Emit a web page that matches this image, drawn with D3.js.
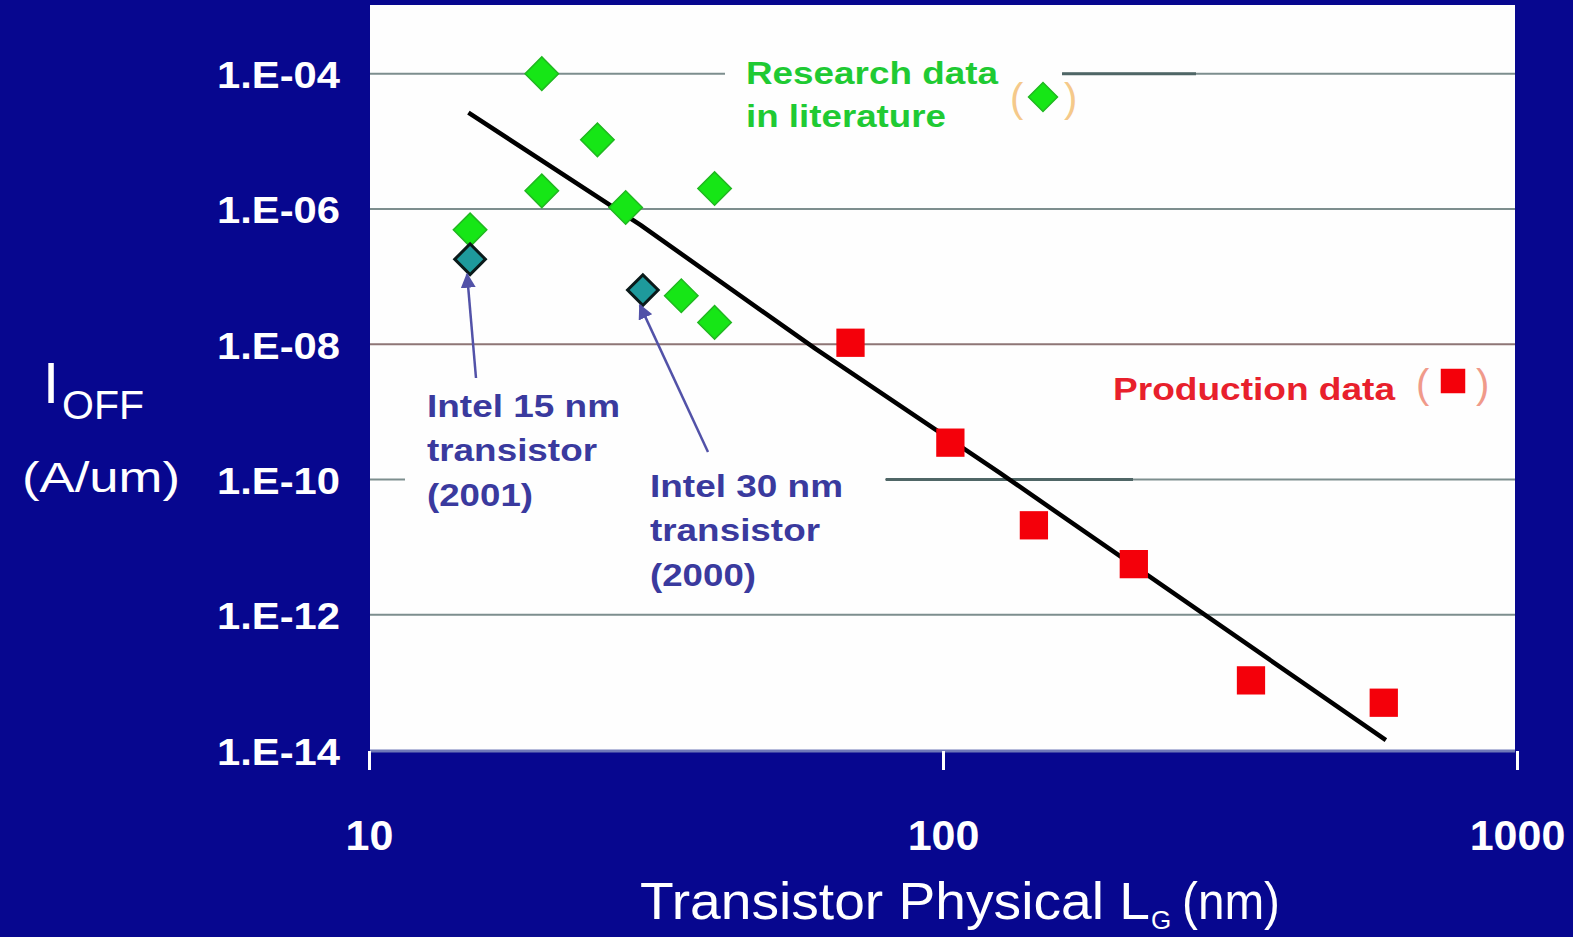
<!DOCTYPE html>
<html>
<head>
<meta charset="utf-8">
<script src="https://cdn.jsdelivr.net/npm/d3@7"></script>
<style>
  body { margin: 0; background: #07078f; }
  svg { display: block; }
  text { font-family: "Liberation Sans", Arial, sans-serif; }
</style>
</head>
<body>
<div id="chart"></div>
<script>
// gate length (nm) and off current (A/um)
const researchLg   = [20, 25, 20, 28, 40, 15, 35, 40];
const researchIoff = [1e-4, 1.05e-5, 1.85e-6, 1.05e-6, 2e-6, 4.9e-7, 5.2e-8, 2.1e-8];

const intelLg   = [15, 30];
const intelIoff = [1.8e-7, 6.3e-8];

const prodLg   = [69, 103, 144, 215, 344, 586];
const prodIoff = [1.05e-8, 3.5e-10, 2.1e-11, 5.6e-12, 1.07e-13, 5e-14];

const trendLg   = [14.9, 29.7, 60, 125.6, 591];
const trendIoff = [2.65e-5, 5.8e-7, 8.5e-9, 1.25e-10, 1.4e-14];

const xTicks = [10, 100, 1000];
const yTicks = [1e-4, 1e-6, 1e-8, 1e-10, 1e-12, 1e-14];

let width = 1573, height = 937;
let plot = {left: 370, right: 1515, top: 5, bottom: 750};

let svg = d3.select("#chart").append("svg")
  .attr("width", width)
  .attr("height", height);

svg.append("rect").attr("width", width).attr("height", height).attr("fill", "#07078f");

let x = d3.scaleLog().domain([10, 1000]).range([369, 1517]);
let y = d3.scaleLog().domain([1e-14, 1e-3]).range([750, 6]);

let defs = svg.append("defs");
defs.append("marker")
  .attr("id", "arrow")
  .attr("viewBox", "0 0 10 10")
  .attr("refX", 9).attr("refY", 5)
  .attr("markerWidth", 6).attr("markerHeight", 6)
  .attr("orient", "auto")
  .append("path").attr("d", "M0,0 L10,5 L0,10 z").attr("fill", "#5252a8");

// plot area
svg.append("rect")
  .attr("x", plot.left).attr("y", plot.top)
  .attr("width", plot.right - plot.left).attr("height", plot.bottom - plot.top)
  .attr("fill", "#fefefe");
svg.append("line")
  .attr("x1", plot.left).attr("x2", plot.right)
  .attr("y1", plot.bottom + 1).attr("y2", plot.bottom + 1)
  .attr("stroke", "#6f78b8").attr("stroke-width", 3);

// gridlines
svg.append("g").selectAll("line").data(yTicks.slice(0, 5)).join("line")
  .attr("x1", plot.left).attr("x2", plot.right)
  .attr("y1", d => y(d)).attr("y2", d => y(d))
  .attr("stroke", d => d === 1e-8 ? "#8e7676" : "#7d8e8e")
  .attr("stroke-width", 2);

// white label boxes hiding the gridlines
let boxes = [[725, 45, 338, 95], [405, 380, 235, 135], [640, 462, 245, 140]];
svg.append("g").selectAll("rect").data(boxes).join("rect")
  .attr("x", d => d[0]).attr("y", d => d[1])
  .attr("width", d => d[2]).attr("height", d => d[3])
  .attr("fill", "#fefefe");

// darker box edges on two gridlines
let edges = [[1062, 1196, 1e-4], [886, 1133, 1e-10]];
svg.append("g").selectAll("line").data(edges).join("line")
  .attr("x1", d => d[0]).attr("x2", d => d[1])
  .attr("y1", d => y(d[2])).attr("y2", d => y(d[2]))
  .attr("stroke", "#4f6666").attr("stroke-width", 3);

// x axis
let xAxis = svg.append("g")
  .attr("transform", `translate(0,${plot.bottom + 1})`)
  .call(d3.axisBottom(x).tickValues(xTicks).tickSize(19).tickFormat(d3.format("d")));
xAxis.select(".domain").remove();
xAxis.selectAll(".tick line").attr("stroke", "#ffffff").attr("stroke-width", 3);
xAxis.selectAll(".tick text")
  .attr("y", 99)
  .attr("dy", 0)
  .attr("fill", "#ffffff")
  .style("font-size", "43px")
  .style("font-weight", "bold")
  .style("font-family", "Liberation Sans, Arial, sans-serif");

// y axis labels
let yAxis = svg.append("g")
  .attr("transform", `translate(340,0)`)
  .call(d3.axisLeft(y).tickValues(yTicks).tickSize(0).tickPadding(0)
    .tickFormat(d => "1.E-" + String(Math.round(-Math.log10(d))).padStart(2, "0")));
yAxis.select(".domain").remove();
yAxis.selectAll(".tick text")
  .attr("dy", "0.38em")
  .attr("fill", "#ffffff")
  .attr("textLength", 123)
  .attr("lengthAdjust", "spacingAndGlyphs")
  .style("font-size", "37px")
  .style("font-weight", "bold")
  .style("font-family", "Liberation Sans, Arial, sans-serif");

// axis titles
svg.append("text").attr("x", 43).attr("y", 403).attr("fill", "#fff")
  .style("font-size", "58px").text("I");
svg.append("text").attr("x", 62).attr("y", 419).attr("fill", "#fff")
  .attr("textLength", 82).attr("lengthAdjust", "spacingAndGlyphs")
  .style("font-size", "40px").text("OFF");
svg.append("text").attr("x", 22).attr("y", 492).attr("fill", "#fff")
  .attr("textLength", 158).attr("lengthAdjust", "spacingAndGlyphs")
  .style("font-size", "43px").text("(A/um)");

svg.append("text").attr("x", 640).attr("y", 919).attr("fill", "#fff")
  .attr("textLength", 510).attr("lengthAdjust", "spacingAndGlyphs")
  .style("font-size", "52px").text("Transistor Physical L");
svg.append("text").attr("x", 1151).attr("y", 929).attr("fill", "#fff")
  .style("font-size", "26px").text("G");
svg.append("text").attr("x", 1182).attr("y", 919).attr("fill", "#fff")
  .attr("textLength", 98).attr("lengthAdjust", "spacingAndGlyphs")
  .style("font-size", "52px").text("(nm)");

// trend line
let trend = trendLg.map((d, i) => [d, trendIoff[i]]);
svg.append("path")
  .datum(trend)
  .attr("fill", "none")
  .attr("stroke", "#000")
  .attr("stroke-width", 4.5)
  .attr("stroke-linejoin", "round")
  .attr("d", d3.line().x(d => x(d[0])).y(d => y(d[1])));

// markers
let diamond = d3.symbol().type(d3.symbolSquare).size(560);
let research = researchLg.map((d, i) => [d, researchIoff[i]]);
svg.append("g").selectAll("path").data(research).join("path")
  .attr("d", diamond)
  .attr("transform", d => `translate(${x(d[0])},${y(d[1])}) rotate(45)`)
  .attr("fill", "#16e616")
  .attr("stroke", "#20b820").attr("stroke-width", 1.5);

let intel = intelLg.map((d, i) => [d, intelIoff[i]]);
svg.append("g").selectAll("path").data(intel).join("path")
  .attr("d", d3.symbol().type(d3.symbolSquare).size(470))
  .attr("transform", d => `translate(${x(d[0])},${y(d[1])}) rotate(45)`)
  .attr("fill", "#1e9a9c")
  .attr("stroke", "#0a1a1a").attr("stroke-width", 3);

let prod = prodLg.map((d, i) => [d, prodIoff[i]]);
svg.append("g").selectAll("path").data(prod).join("path")
  .attr("d", d3.symbol().type(d3.symbolSquare).size(800))
  .attr("transform", d => `translate(${x(d[0])},${y(d[1])})`)
  .attr("fill", "#f4000a");

// arrows to the Intel devices
let arrows = [[476, 378, intel[0]], [708, 452, intel[1]]];
svg.append("g").selectAll("line").data(arrows).join("line")
  .attr("x1", d => d[0]).attr("y1", d => d[1])
  .attr("x2", d => x(d[2][0]) - 3).attr("y2", d => y(d[2][1]) + 15)
  .attr("stroke", "#5252a8").attr("stroke-width", 2.5)
  .attr("marker-end", "url(#arrow)");

// annotations
function label(txt, px, py, len, color) {
  svg.append("text").attr("x", px).attr("y", py).attr("fill", color)
    .attr("textLength", len).attr("lengthAdjust", "spacingAndGlyphs")
    .style("font-size", "32px").style("font-weight", "bold").text(txt);
}
label("Research data", 746, 84, 252, "#1fca33");
label("in literature", 746, 127, 200, "#1fca33");
label("Production data", 1113, 400, 282, "#e8202c");
label("Intel 15 nm", 427, 417, 193, "#3a3a9e");
label("transistor", 427, 461, 170, "#3a3a9e");
label("(2001)", 427, 506, 106, "#3a3a9e");
label("Intel 30 nm", 650, 497, 193, "#3a3a9e");
label("transistor", 650, 541, 170, "#3a3a9e");
label("(2000)", 650, 586, 106, "#3a3a9e");

// legend keys
svg.append("text").attr("x", 1010).attr("y", 112).attr("fill", "#f5c98a").style("font-size", "40px").text("(");
svg.append("path").attr("d", d3.symbol().type(d3.symbolSquare).size(420))
  .attr("transform", "translate(1043,97) rotate(45)")
  .attr("fill", "#16e616").attr("stroke", "#20b820").attr("stroke-width", 1.5);
svg.append("text").attr("x", 1064).attr("y", 112).attr("fill", "#f5c98a").style("font-size", "40px").text(")");

svg.append("text").attr("x", 1416).attr("y", 398).attr("fill", "#f09a8a").style("font-size", "40px").text("(");
svg.append("path").attr("d", d3.symbol().type(d3.symbolSquare).size(600))
  .attr("transform", "translate(1453,381)")
  .attr("fill", "#f4000a");
svg.append("text").attr("x", 1476).attr("y", 398).attr("fill", "#f09a8a").style("font-size", "40px").text(")");
</script>
</body>
</html>
